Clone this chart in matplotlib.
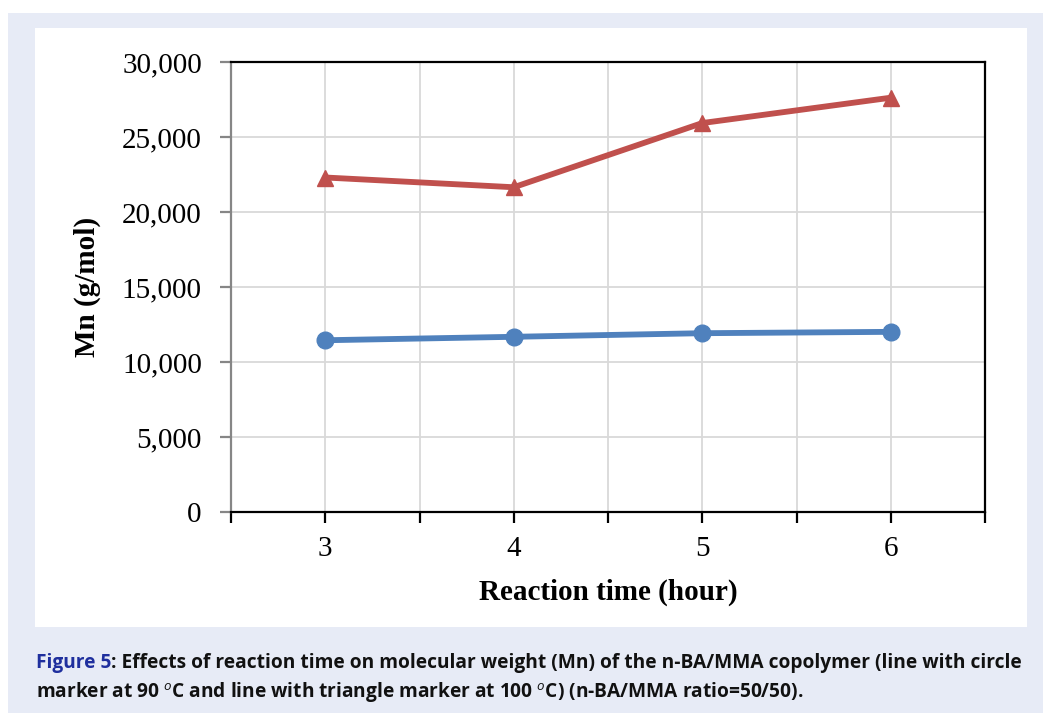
import matplotlib
matplotlib.use("Agg")
import matplotlib.pyplot as plt
from matplotlib.patches import Rectangle
from matplotlib.ticker import FuncFormatter

# Data
hours = [3, 4, 5, 6]
mn_90C = [11450, 11680, 11920, 12010]
mn_100C = [22300, 21650, 25930, 27620]
y_ticks = [0, 5000, 10000, 15000, 20000, 25000, 30000]

W, H = 1043, 713
fig = plt.figure(figsize=(W / 100, H / 100), dpi=100)
fig.patch.set_facecolor("white")

# background panels
fig.patches.append(Rectangle((8 / W, 0), 1 - 8 / W, 1 - 13 / H, transform=fig.transFigure,
                             facecolor="#e7ebf6", edgecolor="none", zorder=-10))
fig.patches.append(Rectangle((35 / W, 1 - 627 / H), (1027 - 35) / W, (627 - 28) / H,
                             transform=fig.transFigure, facecolor="white", edgecolor="none", zorder=-9))

ax = fig.add_axes([231 / W, 1 - 512 / H, (985 - 231) / W, (512 - 62) / H])
ax.set_facecolor("white")

serif = "Liberation Serif"
ax.plot(hours, mn_90C, color="#4F81BD", lw=4.2, marker="o", markersize=12, zorder=3,
        solid_capstyle="round")
ax.plot(hours, mn_100C, color="#C0504D", lw=4.2, marker="^", markersize=12, zorder=3,
        solid_capstyle="round")

ax.set_xlim(2.5, 6.5)
ax.set_ylim(0, 30000)
xt = [2.5, 3, 3.5, 4, 4.5, 5, 5.5, 6, 6.5]
ax.set_xticks(xt)
ax.set_xticklabels([str(int(v)) if v == int(v) and v in hours else "" for v in xt])
ax.set_yticks(y_ticks)
ax.yaxis.set_major_formatter(FuncFormatter(lambda v, p: f"{int(v):,}"))

ax.grid(True, color="#d9d9d9", lw=1.3, zorder=0)
ax.set_axisbelow(True)

for s in ["top", "right", "bottom"]:
    ax.spines[s].set_color("black")
    ax.spines[s].set_linewidth(1.6)
ax.spines["left"].set_color("#868686")
ax.spines["left"].set_linewidth(1.6)

ax.tick_params(axis="y", direction="out", length=8, width=1.6, color="#868686",
               pad=13, labelsize=21)
ax.tick_params(axis="x", direction="out", length=8, width=1.6, color="black",
               pad=9, labelsize=21)
for lbl in ax.get_xticklabels() + ax.get_yticklabels():
    lbl.set_fontfamily(serif)

ax.set_xlabel("Reaction time (hour)", fontsize=21, fontweight="bold", family=serif, labelpad=12)
ax.set_ylabel("Mn (g/mol)", fontsize=21, fontweight="bold", family=serif)
ax.yaxis.set_label_coords((101 - 231) / (985 - 231), 0.5)

# caption
cap_font = "Open Sans"
plt.rcParams["mathtext.fontset"] = "custom"
plt.rcParams["mathtext.it"] = cap_font + ":italic"
plt.rcParams["mathtext.rm"] = cap_font
cap_kw = dict(fontsize=13.8, fontweight="bold", family=cap_font, va="center", ha="left")
t1 = fig.text(36 / W, 1 - 663 / H, "Figure 5", color="#1f2f9e", **cap_kw)
fig.canvas.draw()
bb = t1.get_window_extent()
fig.text(bb.x1 / W, 1 - 663 / H,
         ": Effects of reaction time on molecular weight (Mn) of the n-BA/MMA copolymer (line with circle",
         color="#111111", **cap_kw)
fig.text(36 / W, 1 - 692 / H,
         r"marker at 90 $^{o}$C and line with triangle marker at 100 $^{o}$C) (n-BA/MMA ratio=50/50).",
         color="#111111", **cap_kw)

fig.savefig("out.png", dpi=100)
